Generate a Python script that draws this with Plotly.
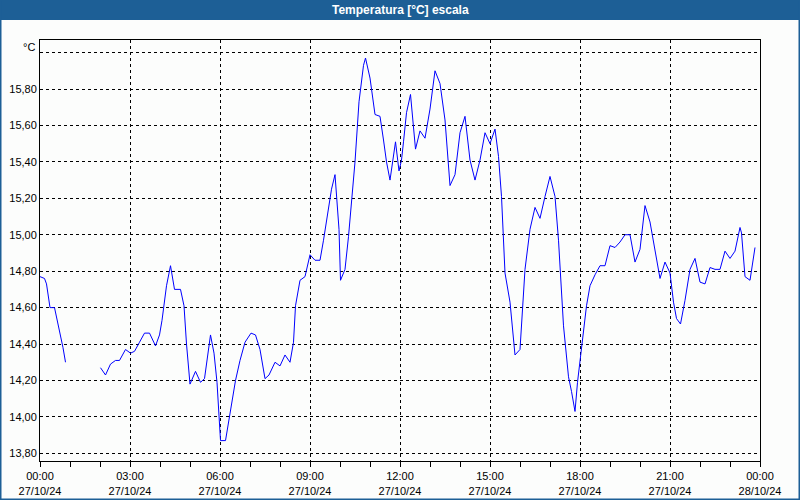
import plotly.graph_objects as go

day = "2024-10-27"
times = [
    "00:00", "00:09", "00:13", "00:20", "00:29", "00:33", "00:39", "00:46", "00:51",
    "01:30",
    "02:01", "02:11", "02:21", "02:31", "02:39", "02:51", "03:01", "03:09", "03:19", "03:29",
    "03:39", "03:51", "03:59", "04:04", "04:13", "04:21", "04:29", "04:41", "04:48", "04:53",
    "05:00", "05:11", "05:21", "05:29", "05:41", "05:48", "05:54", "05:59", "06:01", "06:11",
    "06:20", "06:31", "06:40", "06:50", "07:02", "07:11", "07:20", "07:30", "07:38", "07:50",
    "08:00", "08:10", "08:20", "08:27", "08:31", "08:40", "08:50", "09:00", "09:10", "09:20",
    "09:27", "09:37", "09:43", "09:50", "09:58", "10:01", "10:10", "10:17", "10:23", "10:30",
    "10:38", "10:47", "10:51", "11:00", "11:10", "11:20", "11:27", "11:33", "11:40", "11:47",
    "11:51", "11:58", "12:03", "12:07", "12:13", "12:21", "12:27", "12:31", "12:40", "12:50",
    "13:00", "13:10", "13:20", "13:30", "13:40", "13:50", "14:00", "14:10", "14:20", "14:30",
    "14:40", "14:50", "15:00", "15:10", "15:17", "15:23", "15:30", "15:40", "15:50", "16:00",
    "16:10", "16:20", "16:30", "16:40", "16:50", "17:00", "17:10", "17:17", "17:27", "17:37",
    "17:43", "17:50", "17:55", "18:01", "18:10", "18:13", "18:20", "18:30", "18:40", "18:50",
    "19:00", "19:10", "19:20", "19:30", "19:40", "19:50", "20:00", "20:10", "20:20", "20:30",
    "20:40", "20:50", "21:00", "21:07", "21:13", "21:21", "21:30", "21:40", "21:50", "22:00",
    "22:10", "22:20", "22:30", "22:40", "22:50", "23:00", "23:10", "23:20", "23:23", "23:30",
    "23:40", "23:50",
]
temps = [
    14.77, 14.76, 14.73, 14.60, 14.60, 14.55, 14.48, 14.38, 14.30,
    None,
    14.27, 14.23, 14.29, 14.31, 14.31, 14.37, 14.35, 14.36, 14.41, 14.46,
    14.46, 14.39, 14.45, 14.53, 14.72, 14.83, 14.70, 14.70, 14.61, 14.40,
    14.18, 14.25, 14.19, 14.21, 14.45, 14.35, 14.19, 13.93, 13.87, 13.87,
    14.02, 14.20, 14.31, 14.41, 14.46, 14.45, 14.37, 14.21, 14.23, 14.30,
    14.28, 14.34, 14.30, 14.41, 14.61, 14.75, 14.77, 14.89, 14.86, 14.86,
    14.97, 15.15, 15.25, 15.33, 15.03, 14.75, 14.81, 14.99, 15.19, 15.40,
    15.73, 15.93, 15.97, 15.86, 15.66, 15.65, 15.52, 15.40, 15.30, 15.44,
    15.51, 15.35, 15.41, 15.51, 15.67, 15.77, 15.60, 15.47, 15.57, 15.53,
    15.69, 15.90, 15.83, 15.63, 15.27, 15.33, 15.56, 15.65, 15.41, 15.30,
    15.41, 15.56, 15.50, 15.58, 15.43, 15.21, 14.79, 14.63, 14.34, 14.37,
    14.81, 15.03, 15.15, 15.09, 15.21, 15.32, 15.21, 14.97, 14.50, 14.22,
    14.14, 14.03, 14.19, 14.34, 14.53, 14.61, 14.72, 14.78, 14.83, 14.83,
    14.94, 14.93, 14.96, 15.00, 15.00, 14.85, 14.92, 15.16, 15.07, 14.91,
    14.76, 14.85, 14.79, 14.63, 14.54, 14.51, 14.64, 14.81, 14.87, 14.74,
    14.73, 14.82, 14.81, 14.81, 14.91, 14.87, 14.91, 15.04, 15.01, 14.77,
    14.75, 14.93,
]
y_tickvals = [13.8, 14.0, 14.2, 14.4, 14.6, 14.8, 15.0, 15.2, 15.4, 15.6, 15.8, 16.0]
y_ticktext = ["13,80", "14,00", "14,20", "14,40", "14,60", "14,80", "15,00",
              "15,20", "15,40", "15,60", "15,80", ""]
title_text = "Temperatura [°C] escala"
unit_text = "°C"

x = [f"{day} {t}" for t in times]

W, H = 800, 500
L, R, T, B = 40, 40, 40, 39
pw, ph = W - L - R, H - T - B


def px(xp):
    return (xp - L) / pw


def py(yp):
    return (H - B - yp) / ph


BLUE = "#1d5f96"
FONT = "Liberation Sans"

fig = go.Figure()
fig.add_trace(go.Scatter(x=x, y=temps, mode="lines",
                         line=dict(color="#0000ff", width=1),
                         connectgaps=False, showlegend=False))

fig.update_layout(
    width=W, height=H,
    margin=dict(l=L, r=R, t=T, b=B, autoexpand=False),
    paper_bgcolor="#fcfdfc", plot_bgcolor="#fcfdfc",
    font=dict(family=FONT, size=11, color="black"),
    showlegend=False,
    xaxis=dict(
        type="date", automargin=False,
        range=["2024-10-27 00:00", "2024-10-28 00:00"],
        dtick=3 * 3600000, tick0="2024-10-27 00:00",
        tickformat="%H:%M<br>%d/%m/%y",
        ticks="outside", ticklen=5, tickcolor="black",
        showline=True, linecolor="black", linewidth=1, mirror=True,
        showgrid=True, gridcolor="black", gridwidth=1, griddash="3px,3px",
        minor=dict(dtick=3600000, ticks="outside", ticklen=5, tickcolor="black", showgrid=False),
        zeroline=False, fixedrange=True,
        tickfont=dict(family=FONT, size=11),
    ),
    yaxis=dict(
        automargin=False,
        range=[13.758, 16.069],
        tickvals=y_tickvals, ticktext=y_ticktext,
        ticks="", showline=True, linecolor="black", linewidth=1, mirror=True,
        showgrid=True, gridcolor="black", gridwidth=1, griddash="3px,3px",
        zeroline=False, fixedrange=True,
        tickfont=dict(family=FONT, size=11),
    ),
    shapes=[
        dict(type="rect", xref="paper", yref="paper",
             x0=px(0), x1=px(W), y0=py(20), y1=py(0),
             fillcolor=BLUE, line=dict(width=0), layer="below"),
        dict(type="rect", xref="paper", yref="paper",
             x0=px(0.5), x1=px(W - 0.5), y0=py(H - 0.5), y1=py(0),
             fillcolor="rgba(0,0,0,0)", line=dict(color=BLUE, width=2)),
    ],
    annotations=[
        dict(text=f"<b>{title_text}</b>", xref="paper", yref="paper",
             x=px(W / 2), y=py(10), showarrow=False,
             xanchor="center", yanchor="middle",
             font=dict(family=FONT, size=12, color="white")),
        dict(text=unit_text, xref="paper", yref="paper",
             x=px(37), y=py(47), showarrow=False,
             xanchor="right", yanchor="middle",
             font=dict(family=FONT, size=11, color="black")),
    ],
)

fig.write_html("out.html")
